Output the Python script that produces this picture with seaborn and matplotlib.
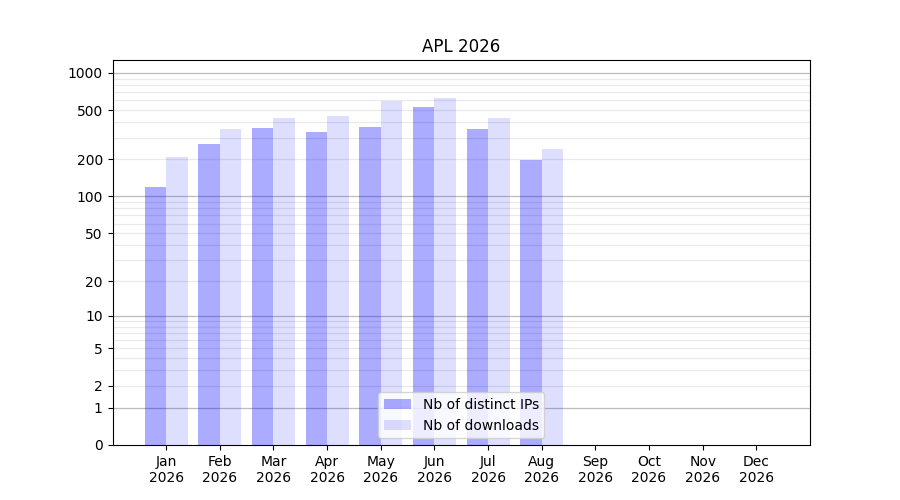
import numpy as np
import pandas as pd
import matplotlib
matplotlib.use("Agg")
import matplotlib.pyplot as plt
import seaborn as sns

months = ["Jan", "Feb", "Mar", "Apr", "May", "Jun", "Jul", "Aug", "Sep", "Oct", "Nov", "Dec"]
year = "2026"
distinct_ips = [119, 264, 360, 334, 366, 531, 353, 198, None, None, None, None]
downloads = [210, 353, 435, 452, 594, 632, 433, 243, None, None, None, None]
series_names = ["Nb of distinct IPs", "Nb of downloads"]
ytick_values = [0, 1, 2, 5, 10, 20, 50, 100, 200, 500, 1000]
major_grid = [1, 10, 100, 1000]
minor_grid = [v * d for d in [1, 10, 100] for v in range(2, 10)]

labels = [f"{m}\n{year}" for m in months]
df = pd.DataFrame({
    "month": labels * 2,
    "value": distinct_ips + downloads,
    "series": [series_names[0]] * 12 + [series_names[1]] * 12,
})
df["value"] = pd.to_numeric(df["value"])

plt.rcParams["font.family"] = ["DejaVu Sans"]
fig, ax = plt.subplots(figsize=(9, 5), dpi=100)

fwd = lambda x: np.log10(np.clip(x, 0, None) + 1)
inv = lambda y: 10 ** y - 1
ax.set_yscale("function", functions=(fwd, inv))

sns.barplot(data=df, x="month", y="value", hue="series", order=labels,
            hue_order=series_names, palette=["blue", "blue"], saturation=1,
            legend=False, ax=ax, zorder=2, linewidth=0, edgecolor="none")

alphas = [0.33, 0.13]
for cont, a in zip(ax.containers, alphas):
    for p in cont.patches:
        p.set_alpha(a)

for v in minor_grid:
    ax.axhline(v, color="#e9e9e9", lw=0.9, zorder=0.5)
for v in major_grid:
    ax.axhline(v, color="#bdbdbd", lw=0.9, zorder=0.6)

ax.set_ylim(0, 1270)
ax.set_xlim(-1, 12)
ax.set_yticks(ytick_values)
ax.set_yticklabels([str(v) for v in ytick_values])
ax.yaxis.set_minor_locator(matplotlib.ticker.NullLocator())
ax.set_xlabel("")
ax.set_ylabel("")
ax.set_title("APL 2026", fontsize=12)
for s in ax.spines.values():
    s.set_visible(True)
    s.set_color("black")
    s.set_linewidth(0.8)
ax.tick_params(axis="both", which="major", length=3.5, width=0.8, labelsize=10,
               color="black", labelcolor="black", left=True, bottom=True)

ax.legend(handles=list(ax.containers), labels=series_names, loc="lower center", fontsize=10)

fig.subplots_adjust(left=0.125, right=0.9, top=0.88, bottom=0.11)
fig.savefig("out.png", dpi=100)
